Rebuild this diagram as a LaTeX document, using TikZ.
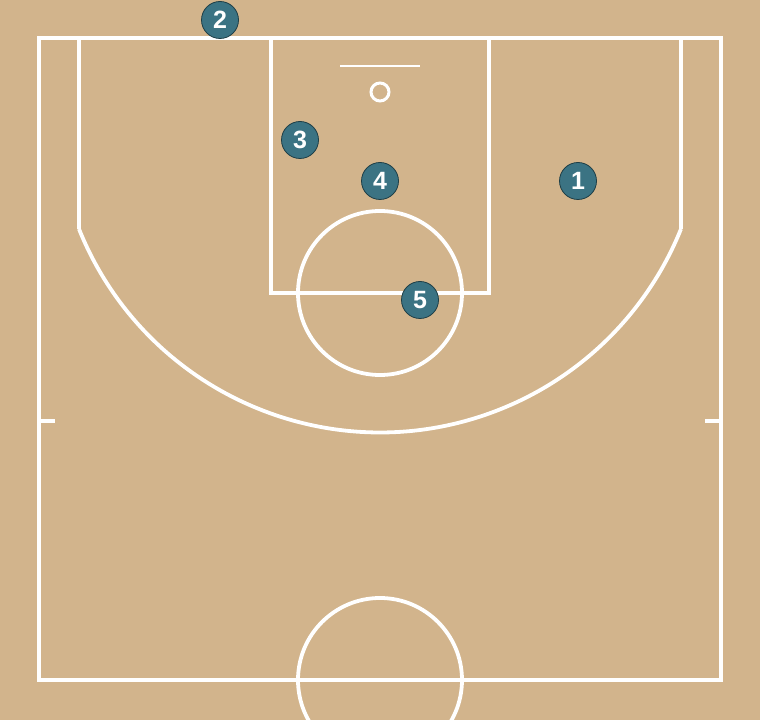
\documentclass[tikz,border=0pt]{standalone}
\usepackage{fontspec}
\setmainfont{Liberation Sans}
\definecolor{court}{HTML}{D2B48C}
\definecolor{player}{HTML}{3B7383}
\definecolor{playeredge}{HTML}{1E3E46}
\begin{document}
\begin{tikzpicture}[x=1pt,y=1pt,
  courtline/.style={draw=white,line width=3.8pt},
  playerdot/.style={circle,fill=player,draw=playeredge,line width=0.8pt,minimum size=37pt,inner sep=0pt,text=white,font=\fontsize{25}{25}\selectfont\bfseries}]
\fill[court] (0,0) rectangle (760,720);
\useasboundingbox (0,0) rectangle (760,720);
\begin{scope}
\clip (0,0) rectangle (760,720);
% outer court
\draw[courtline] (39,40) rectangle (721,682);
% lane
\draw[courtline] (271,682) -- (271,427) -- (489,427) -- (489,682);
% free throw circle
\draw[courtline] (380,427) circle[radius=82];
% three point line
\coordinate (cl) at (79,491);
\coordinate (cr) at (681,491);
\draw[courtline] (79,682) -- (cl);
\draw[courtline] (681,682) -- (cr);
\draw[courtline] (cl) arc[start angle=201.9,end angle=338.1,radius=324.4];
% backboard and ring
\draw[courtline,line width=2pt] (340,654) -- (420,654);
\draw[courtline,line width=3pt] (380,628) circle[radius=9];
% center circle
\draw[courtline] (380,40) circle[radius=82];
% side ticks
\draw[courtline] (39,299) -- (55,299);
\draw[courtline] (705,299) -- (721,299);
\end{scope}
% players
\node[playerdot] (p1) at (578,539) {1};
\node[playerdot] (p2) at (220,700) {2};
\node[playerdot] (p3) at (300,580) {3};
\node[playerdot] (p4) at (380,539) {4};
\node[playerdot] (p5) at (420,420) {5};
\end{tikzpicture}
\end{document}
